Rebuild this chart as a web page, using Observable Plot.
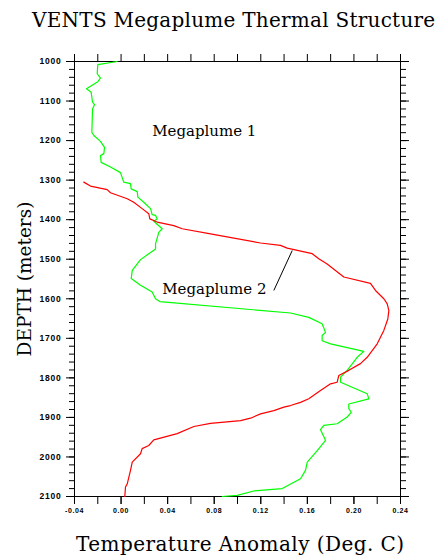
<!DOCTYPE html>
<html>
<head>
<meta charset="utf-8">
<script src="https://cdn.jsdelivr.net/npm/d3@7"></script>
<script src="https://cdn.jsdelivr.net/npm/@observablehq/plot@0.6"></script>
<style>
  html, body { margin: 0; padding: 0; background: #fff; }
  #wrap { width: 438px; height: 559px; position: relative; overflow: hidden; }
  .title { height: 36px; box-sizing: border-box; padding-top: 10px; padding-left: 32px;
    font-family: "DejaVu Serif", serif; font-size: 20px; line-height: 20px; letter-spacing: 0.25px; color: #000; white-space: nowrap; }
  .xlabel { height: 35px; box-sizing: border-box; padding-top: 10px; padding-left: 76px;
    font-family: "DejaVu Serif", serif; font-size: 20px; line-height: 20px; letter-spacing: 0.45px; color: #000; white-space: nowrap; }
  g[aria-label="y-axis tick label"] { letter-spacing: 0.8px; }
  g[aria-label="x-axis tick label"] { letter-spacing: 0.6px; }
  svg { display: block; }
</style>
</head>
<body>
<div id="wrap">
  <div class="title">VENTS Megaplume Thermal Structure</div>
  <div id="chart"></div>
  <div class="xlabel">Temperature Anomaly (Deg. C)</div>
</div>
<script>
// Megaplume 1 (green) profile
const greenTemp = [-0.0033,-0.0200,-0.0205,-0.0177,-0.0200,-0.0297,-0.0257,-0.0245,-0.0228,-0.0245,-0.0251,-0.0234,-0.0177,-0.0142,-0.0148,-0.0177,-0.0171,-0.0091,-0.0005,0.0023,0.0081,0.0087,0.0139,0.0144,0.0195,0.0253,0.0267,0.0296,0.0310,0.0281,0.0353,0.0324,0.0296,0.0296,0.0167,0.0096,0.0087,0.0167,0.0267,0.0296,0.0333,0.1455,0.1612,0.1727,0.1756,0.1727,0.1727,0.1799,0.2056,0.2085,0.2028,0.1942,0.1885,0.1885,0.2114,0.2128,0.1956,0.1956,0.1977,0.1942,0.1856,0.1741,0.1713,0.1756,0.1685,0.1599,0.1584,0.1541,0.1384,0.1140,0.0997,0.0869];
const greenDepth = [1000,1008,1031,1042,1051,1069,1078,1103,1109,1120,1179,1187,1202,1217,1233,1238,1255,1267,1281,1305,1309,1322,1329,1343,1356,1372,1387,1389,1398,1404,1423,1432,1461,1474,1501,1528,1549,1566,1583,1600,1607,1636,1647,1663,1685,1693,1706,1714,1731,1733,1748,1781,1798,1811,1840,1853,1866,1878,1887,1899,1916,1920,1931,1958,1984,2013,2034,2055,2080,2086,2097,2100];

// Megaplume 2 (red) profile
const redTemp = [-0.0320,-0.0263,-0.0119,-0.0091,0.0053,0.0109,0.0181,0.0238,0.0247,0.0310,0.0453,0.0525,0.0768,0.1198,0.1369,0.1427,0.1642,0.1698,0.1770,0.1913,0.2142,0.2185,0.2257,0.2286,0.2300,0.2291,0.2257,0.2200,0.2114,0.2056,0.1956,0.1870,0.1856,0.1799,0.1713,0.1612,0.1541,0.1455,0.1398,0.1312,0.1198,0.1112,0.1026,0.0768,0.0625,0.0482,0.0281,0.0238,0.0181,0.0167,0.0096,0.0081,0.0053,0.0038,0.0032];
const redDepth = [1305,1315,1324,1332,1347,1356,1372,1385,1398,1406,1415,1423,1436,1459,1465,1472,1486,1499,1512,1545,1561,1579,1600,1613,1630,1651,1680,1714,1748,1764,1781,1794,1811,1815,1832,1853,1862,1870,1874,1883,1891,1902,1908,1915,1923,1941,1957,1971,1979,1992,2013,2034,2068,2076,2100];

// axis ticks and labels
const xMajorTicks = [-0.04, 0.00, 0.04, 0.08, 0.12, 0.16, 0.20, 0.24];
const xTickLabels = ["-0.04", "0.00", "0.04", "0.08", "0.12", "0.16", "0.20", "0.24"];
const xMinorTicks = [-0.04, -0.02, 0.00, 0.02, 0.04, 0.06, 0.08, 0.10, 0.12, 0.14, 0.16, 0.18, 0.20, 0.22, 0.24];
const yMajorTicks = [1000, 1100, 1200, 1300, 1400, 1500, 1600, 1700, 1800, 1900, 2000, 2100];
const yTickLabels = ["1000", "1100", "1200", "1300", "1400", "1500", "1600", "1700", "1800", "1900", "2000", "2100"];
const yMinorTicks = d3.range(1000, 2101, 20);

// annotations
const annotText = ["Megaplume 1", "Megaplume 2"];
const annotTemp = [0.0267, 0.0353];
const annotDepth = [1175, 1575];
const leaderTemp = [0.1312, 0.1470];
const leaderDepth = [1579, 1478];

const green = greenTemp.map((t, i) => ({t, depth: greenDepth[i]}));
const red = redTemp.map((t, i) => ({t, depth: redDepth[i]}));
const annots = annotText.map((s, i) => ({s, t: annotTemp[i], depth: annotDepth[i]}));
const leader = [{t1: leaderTemp[0], d1: leaderDepth[0], t2: leaderTemp[1], d2: leaderDepth[1]}];

const xFmt = d => xTickLabels[xMajorTicks.indexOf(d)];
const yFmt = d => yTickLabels[yMajorTicks.indexOf(d)];
const blank = () => "";
const tickFont = {fontFamily: "Liberation Sans, Arial, sans-serif", fontWeight: "bold"};

const chart = Plot.plot({
  width: 438,
  height: 488,
  marginTop: 25,
  marginBottom: 28,
  marginLeft: 74,
  marginRight: 38,
  style: {background: "white", overflow: "visible", color: "#000"},
  x: {domain: [-0.04, 0.24]},
  y: {domain: [1000, 2100], reverse: true},
  marks: [
    Plot.frame({stroke: "#000", strokeWidth: 1}),
    // bottom axis
    Plot.axisX(xMinorTicks, {anchor: "bottom", tickSize: 8, tickFormat: blank, label: null}),
    Plot.axisX(xMajorTicks, {anchor: "bottom", tickSize: 8, tickPadding: 4, tickFormat: xFmt, label: null, fontSize: 7, ...tickFont}),
    // top axis
    Plot.axisX(xMinorTicks, {anchor: "top", tickSize: 8, tickFormat: blank, label: null}),
    // left axis
    Plot.axisY(yMinorTicks, {anchor: "left", tickSize: 5, tickFormat: blank, label: null}),
    Plot.axisY(yMajorTicks, {anchor: "left", tickSize: 8, tickPadding: 5, tickFormat: yFmt, label: null, fontSize: 8.5, ...tickFont}),
    Plot.axisY([], {anchor: "left", label: "DEPTH (meters)", labelAnchor: "center", labelArrow: "none", labelOffset: 57, fontSize: 18.5, fontFamily: "DejaVu Serif, serif", fontWeight: "normal"}),
    // right axis
    Plot.axisY(yMinorTicks, {anchor: "right", tickSize: 5, tickFormat: blank, label: null}),
    Plot.axisY(yMajorTicks, {anchor: "right", tickSize: 8, tickFormat: blank, label: null}),
    // profiles
    Plot.line(green, {x: "t", y: "depth", stroke: "#00ff00", strokeWidth: 1.2}),
    Plot.line(red, {x: "t", y: "depth", stroke: "#ff0000", strokeWidth: 1.2}),
    // annotations
    Plot.link(leader, {x1: "t1", y1: "d1", x2: "t2", y2: "d2", stroke: "#000", strokeWidth: 1}),
    Plot.text(annots, {x: "t", y: "depth", text: "s", textAnchor: "start", fontSize: 15, fontFamily: "DejaVu Serif, serif", fill: "#000"})
  ]
});
document.getElementById("chart").appendChild(chart);
</script>
</body>
</html>
